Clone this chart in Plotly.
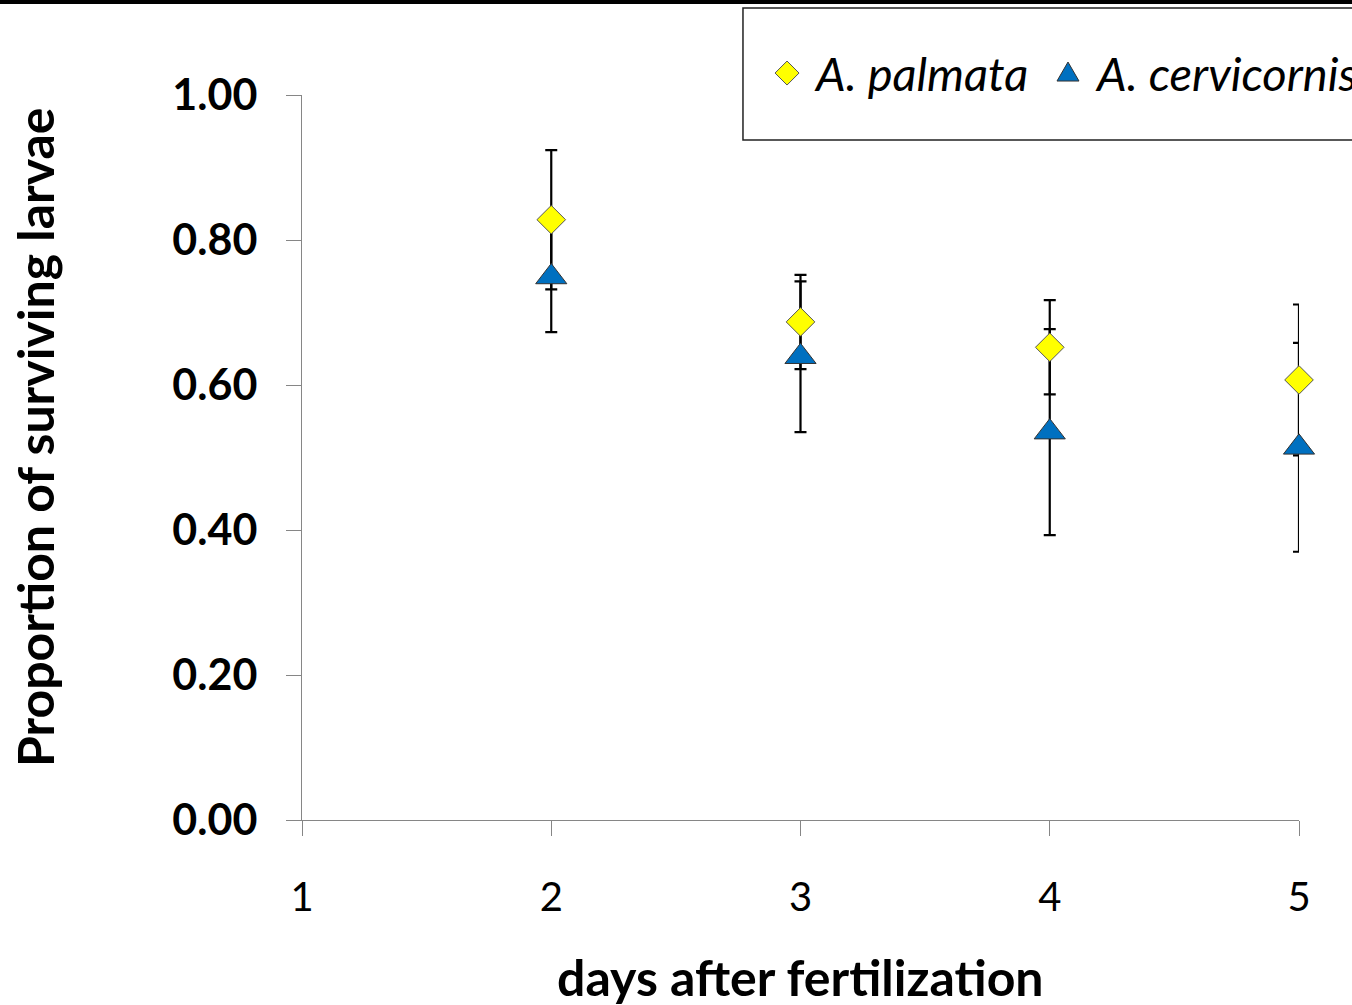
import plotly.graph_objects as go

days = [2, 3, 4, 5]
palmata = [0.828, 0.687, 0.652, 0.607]
palmata_err = [0.096, 0.065, 0.065, 0.104]
cervicornis = [0.749, 0.639, 0.535, 0.514]
cervicornis_err = [0.076, 0.104, 0.142, 0.144]
x_ticks = [1, 2, 3, 4, 5]
y_ticks = [0.0, 0.2, 0.4, 0.6, 0.8, 1.0]
y_tick_labels = ["0.00", "0.20", "0.40", "0.60", "0.80", "1.00"]
series_names = ["A. palmata", "A. cervicornis"]

YELLOW = "#FFFF00"
BLUE = "#0070C0"

fig = go.Figure()

# error bars first (under all markers)
for vals, errs in [(palmata, palmata_err), (cervicornis, cervicornis_err)]:
    fig.add_trace(go.Scatter(
        x=days, y=vals, mode="markers", showlegend=False, hoverinfo="skip",
        marker=dict(size=1, color="rgba(0,0,0,0)"),
        error_y=dict(type="data", array=errs, visible=True, color="black", thickness=2.2, width=6),
        cliponaxis=False,
    ))

fig.add_trace(go.Scatter(
    x=days, y=cervicornis, mode="markers", name=series_names[1], showlegend=False,
    marker=dict(symbol="triangle-up", size=27, color=BLUE, line=dict(color="#333333", width=1)),
    cliponaxis=False,
))
fig.add_trace(go.Scatter(
    x=days, y=palmata, mode="markers", name=series_names[0], showlegend=False,
    marker=dict(symbol="diamond", size=22, color=YELLOW, line=dict(color="#555555", width=1)),
    cliponaxis=False,
))

LEG_Y = 1.0303
legend_shapes = [
    # legend box
    dict(type="rect", xref="paper", yref="paper", x0=0.4423, x1=1.2, y0=0.938, y1=1.12,
         line=dict(color="#222222", width=1.5), fillcolor="rgba(0,0,0,0)", layer="below"),
    # legend diamond
    dict(type="path", xref="paper", yref="paper", xsizemode="pixel", ysizemode="pixel",
         xanchor=0.4865, yanchor=LEG_Y, path="M -12 0 L 0 12 L 12 0 L 0 -12 Z",
         fillcolor=YELLOW, line=dict(color="#555555", width=1)),
    # legend triangle
    dict(type="path", xref="paper", yref="paper", xsizemode="pixel", ysizemode="pixel",
         xanchor=0.7683, yanchor=LEG_Y, path="M -11 -8 L 11 -8 L 0 11 Z",
         fillcolor=BLUE, line=dict(color="#333333", width=1)),
    # black bar along the top edge
    dict(type="rect", xref="paper", yref="paper", x0=-0.5, x1=1.2, y0=1.1255, y1=1.14,
         line=dict(width=0), fillcolor="black"),
]

fig.update_layout(
    width=1352, height=1005,
    margin=dict(l=302, r=53, t=95, b=185),
    plot_bgcolor="white", paper_bgcolor="white",
    font=dict(family="Lato", color="black"),
    showlegend=False,
    xaxis=dict(range=[1, 5], tickmode="array", tickvals=x_ticks, ticktext=[str(v) for v in x_ticks],
               showline=True, linecolor="#868686", linewidth=1, ticks="outside", ticklen=15,
               tickcolor="#868686", showgrid=False, zeroline=False,
               tickfont=dict(size=40, family="Lato"), ticklabelstandoff=27),
    yaxis=dict(range=[0, 1], tickmode="array", tickvals=y_ticks, ticktext=y_tick_labels,
               showline=True, linecolor="#868686", linewidth=1, ticks="outside", ticklen=15,
               tickcolor="#868686", showgrid=False, zeroline=False,
               tickfont=dict(size=43, family="Lato", weight="bold"), ticklabelstandoff=20),
    annotations=[
        dict(text="<b>Proportion of surviving larvae</b>", xref="paper", yref="paper",
             x=-0.268, y=0.528, textangle=-90, showarrow=False,
             font=dict(size=50, family="Lato"), xanchor="center", yanchor="middle"),
        dict(text="<b>days after fertilization</b>", xref="paper", yref="paper",
             x=0.4995, y=-0.2166, showarrow=False,
             font=dict(size=50, family="Lato"), xanchor="center", yanchor="middle"),
        dict(text="<i>" + series_names[0] + "</i>", xref="paper", yref="paper",
             x=0.5115, y=LEG_Y, showarrow=False, xanchor="left", yanchor="middle",
             font=dict(size=47, family="Lato")),
        dict(text="<i>" + series_names[1] + "</i>", xref="paper", yref="paper",
             x=0.7934, y=LEG_Y, showarrow=False, xanchor="left", yanchor="middle",
             font=dict(size=47, family="Lato")),
    ],
    shapes=legend_shapes,
)

fig.write_html("out.html", config={"displayModeBar": False},
               post_script="document.body.style.margin='0';document.body.style.overflow='hidden';")
